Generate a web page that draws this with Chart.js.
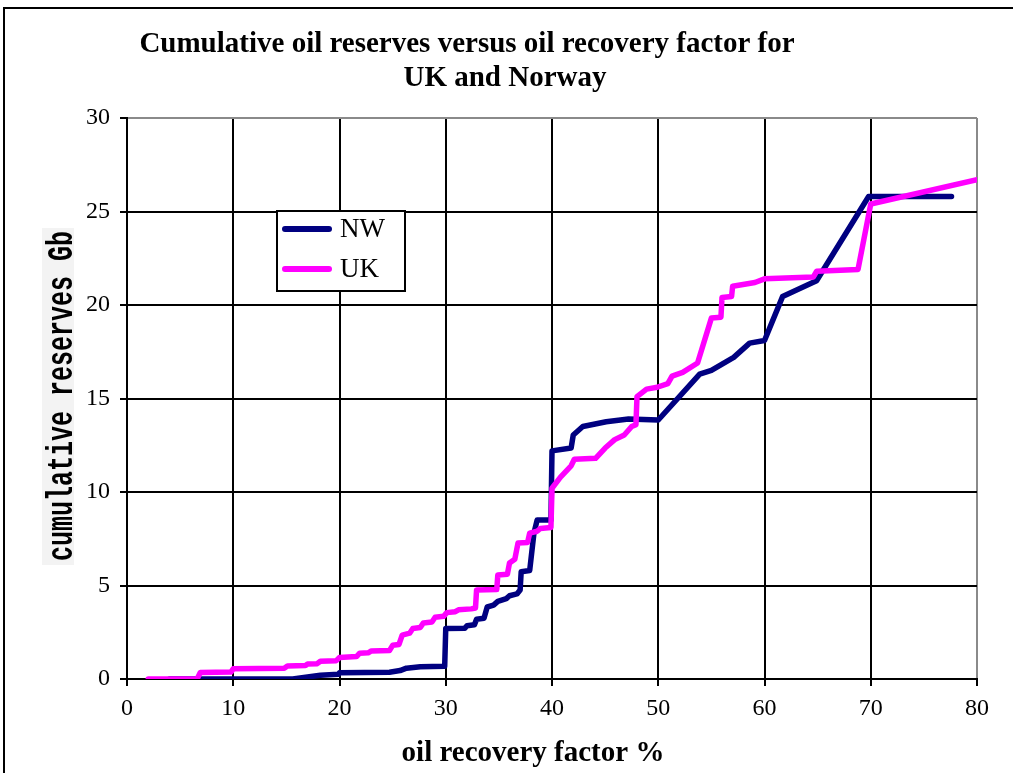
<!DOCTYPE html>
<html>
<head>
<meta charset="utf-8">
<script src="https://cdn.jsdelivr.net/npm/chart.js@4.4.1/dist/chart.umd.min.js"></script>
<style>
  html, body { margin: 0; padding: 0; background: #ffffff; }
  #wrap { width: 1013px; height: 773px; }
</style>
</head>
<body>
<div id="wrap"><canvas id="c" width="1013" height="773"></canvas></div>
<script>
// ---- data ----
const chartTitle = ["Cumulative oil reserves versus oil recovery factor for", "UK and Norway"];
const xTitle = "oil recovery factor %";
const yTitle = "cumulative reserves Gb";
const seriesNames = ["NW", "UK"];

const nwX = [4, 7, 15.6, 18.2, 19.9, 20.0, 24.7, 25.7, 26.3, 27.6, 29.9, 30.0, 31.8, 32.0, 32.7, 32.9, 33.6, 33.9, 34.5, 34.9, 35.7, 36.0, 36.7, 37.0, 37.1, 37.9, 38.3, 38.6, 39.9, 40.0, 41.8, 42.0, 42.9, 45.1, 47.2, 50.0, 53.9, 55.0, 57.1, 58.6, 60.0, 61.7, 64.9, 69.8, 77.6];
const nwY = [0, 0, 0, 0.2, 0.25, 0.34, 0.36, 0.45, 0.58, 0.66, 0.68, 2.7, 2.72, 2.85, 2.9, 3.2, 3.25, 3.85, 3.95, 4.15, 4.3, 4.45, 4.55, 4.76, 5.74, 5.8, 7.8, 8.5, 8.5, 12.2, 12.35, 13.05, 13.5, 13.76, 13.9, 13.85, 16.3, 16.5, 17.2, 17.96, 18.1, 20.45, 21.3, 25.8, 25.8];

const ukX = [2, 6.6, 6.9, 9.8, 10.0, 14.8, 15.1, 16.8, 17.0, 17.9, 18.2, 19.7, 20.0, 21.6, 21.9, 22.7, 23.0, 24.7, 25.0, 25.6, 25.9, 26.6, 26.9, 27.6, 27.9, 28.7, 29.0, 29.8, 30.1, 30.9, 31.2, 32.4, 32.8, 32.9, 34.8, 34.9, 35.8, 36.0, 36.5, 36.8, 37.7, 37.9, 38.6, 38.9, 39.9, 40.0, 40.8, 41.8, 42.1, 44.1, 45.0, 45.9, 46.8, 47.5, 47.9, 48.0, 48.9, 49.9, 50.9, 51.3, 52.3, 53.7, 55.0, 55.9, 56.0, 56.9, 57.0, 59.1, 60.0, 64.6, 64.9, 68.8, 70.0, 80.0];
const ukY = [0, 0, 0.35, 0.38, 0.55, 0.58, 0.7, 0.72, 0.8, 0.82, 0.95, 0.98, 1.15, 1.2, 1.38, 1.4, 1.5, 1.52, 1.8, 1.85, 2.35, 2.45, 2.7, 2.75, 3.0, 3.05, 3.3, 3.35, 3.55, 3.6, 3.7, 3.75, 3.8, 4.76, 4.78, 5.56, 5.6, 6.2, 6.4, 7.27, 7.3, 7.8, 7.9, 8.05, 8.1, 10.2, 10.8, 11.4, 11.75, 11.8, 12.35, 12.8, 13.05, 13.5, 13.6, 15.1, 15.5, 15.6, 15.8, 16.2, 16.4, 16.9, 19.3, 19.35, 20.4, 20.45, 21.0, 21.2, 21.4, 21.5, 21.8, 21.9, 25.4, 26.7];

const xMin = 0, xMax = 80, xStep = 10;
const yMin = 0, yMax = 30, yStep = 5;

const colors = { NW: "#000080", UK: "#FF00FF" };

const toPts = (xs, ys) => xs.map((x, i) => ({ x: x, y: ys[i] }));

const decor = {
  id: "decor",
  beforeDraw(chart) {
    const ctx = chart.ctx;
    ctx.save();
    ctx.fillStyle = "#ffffff";
    ctx.fillRect(0, 0, chart.width, chart.height);
    // outer frame
    ctx.strokeStyle = "#000000";
    ctx.lineWidth = 2;
    ctx.beginPath();
    ctx.moveTo(4, 773);
    ctx.lineTo(4, 8);
    ctx.lineTo(1013, 8);
    ctx.stroke();
    // title
    ctx.fillStyle = "#000000";
    ctx.font = "bold 29px 'Liberation Serif'";
    ctx.textAlign = "center";
    ctx.textBaseline = "middle";
    ctx.fillText(chartTitle[0], 467, 45);
    ctx.fillText(chartTitle[1], 505, 79);
    // x title
    ctx.fillText(xTitle, 533, 754);
    // y title with box
    ctx.fillStyle = "#f3f3f3";
    ctx.fillRect(42, 228, 32, 337);
    ctx.fillStyle = "#000000";
    ctx.translate(72, 396);
    ctx.rotate(-Math.PI / 2);
    ctx.scale(1, 1.45);
    ctx.font = "bold 25px 'Liberation Mono'";
    ctx.textAlign = "center";
    ctx.textBaseline = "alphabetic";
    ctx.fillText(yTitle, 0, 0);
    ctx.restore();
  },
  afterDraw(chart) {
    const ctx = chart.ctx;
    ctx.save();
    // legend box
    ctx.fillStyle = "#ffffff";
    ctx.fillRect(277, 211, 128, 80);
    ctx.strokeStyle = "#000000";
    ctx.lineWidth = 2;
    ctx.strokeRect(277, 211, 128, 80);
    const rows = [{ n: seriesNames[0], y: 229 }, { n: seriesNames[1], y: 269 }];
    rows.forEach(r => {
      ctx.strokeStyle = colors[r.n];
      ctx.lineWidth = 6;
      ctx.lineCap = "round";
      ctx.beginPath();
      ctx.moveTo(285, r.y);
      ctx.lineTo(329, r.y);
      ctx.stroke();
      ctx.fillStyle = "#000000";
      ctx.font = "27px 'Liberation Serif'";
      ctx.textAlign = "left";
      ctx.textBaseline = "middle";
      ctx.fillText(r.n, 340, r.y + 1);
    });
    ctx.restore();
  }
};

new Chart(document.getElementById("c"), {
  type: "line",
  data: {
    datasets: [
      {
        label: seriesNames[0],
        data: toPts(nwX, nwY),
        borderColor: colors.NW,
        backgroundColor: colors.NW,
        borderWidth: 5.5,
        pointRadius: 0,
        tension: 0,
        borderJoinStyle: "round",
        borderCapStyle: "round",
        order: 1
      },
      {
        label: seriesNames[1],
        data: toPts(ukX, ukY),
        borderColor: colors.UK,
        backgroundColor: colors.UK,
        borderWidth: 5.5,
        pointRadius: 0,
        tension: 0,
        borderJoinStyle: "round",
        borderCapStyle: "round",
        order: 0
      }
    ]
  },
  options: {
    responsive: false,
    animation: false,
    events: [],
    layout: { padding: { left: 0, top: 118, right: 36, bottom: 0 } },
    plugins: { legend: { display: false }, title: { display: false }, tooltip: { enabled: false } },
    scales: {
      x: {
        type: "linear",
        min: xMin, max: xMax,
        afterFit(scale) { scale.height = 94; },
        ticks: { stepSize: xStep, color: "#000000", padding: 8, maxRotation: 0, font: { family: "'Liberation Serif'", size: 24 } },
        grid: {
          color: ctx => (ctx.tick && ctx.tick.value === xMax) ? "#8a8a8a" : "#000000",
          lineWidth: 2,
          drawTicks: true,
          tickLength: 7,
          tickColor: "#000000",
          tickWidth: 2
        },
        border: { display: true, color: "#000000", width: 2 }
      },
      y: {
        type: "linear",
        min: yMin, max: yMax,
        afterFit(scale) { scale.width = 127; },
        ticks: { stepSize: yStep, color: "#000000", padding: 10, font: { family: "'Liberation Serif'", size: 24 } },
        grid: {
          color: ctx => (ctx.tick && ctx.tick.value === yMax) ? "#8a8a8a" : "#000000",
          lineWidth: 2,
          drawTicks: true,
          tickLength: 7,
          tickColor: "#000000",
          tickWidth: 2
        },
        border: { display: true, color: "#000000", width: 2 }
      }
    }
  },
  plugins: [decor]
});
</script>
</body>
</html>
